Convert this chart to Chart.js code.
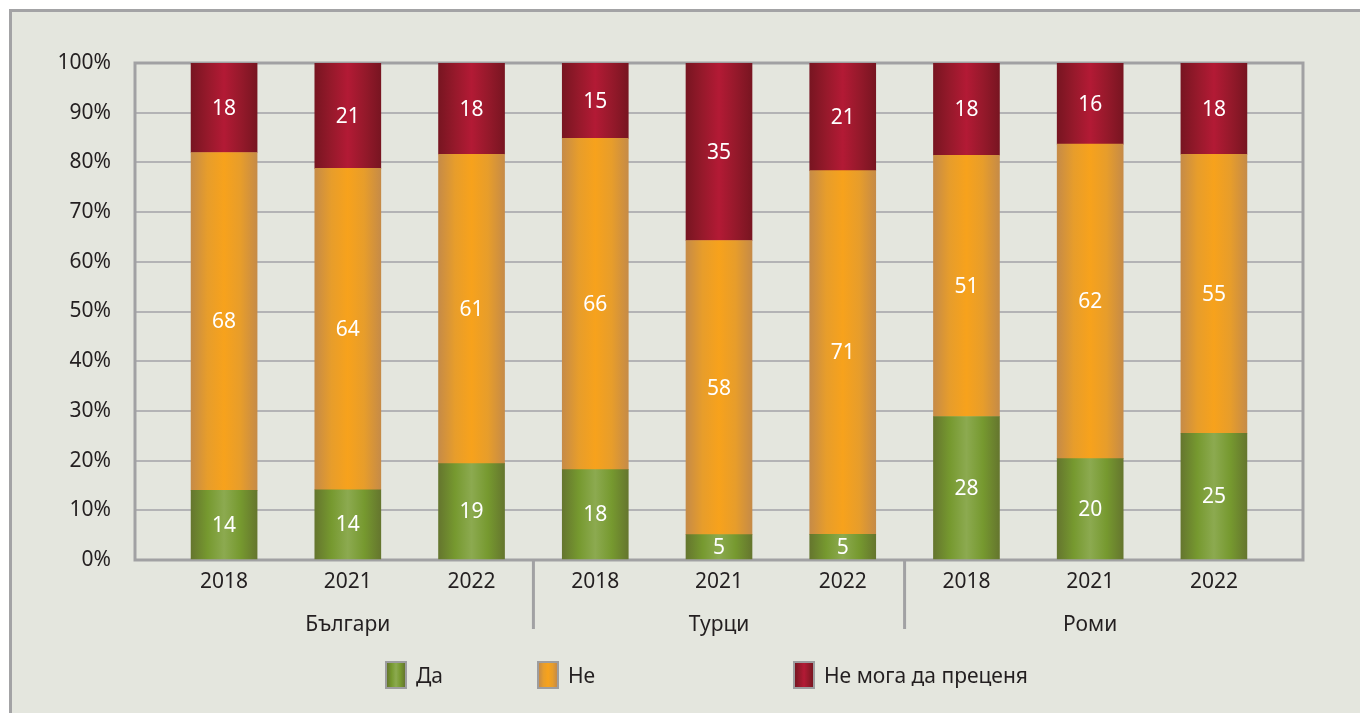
<!DOCTYPE html>
<html>
<head>
<meta charset="utf-8">
<script src="https://cdn.jsdelivr.net/npm/chart.js@4.4.1/dist/chart.umd.min.js"></script>
<style>
  body { margin: 0; background: #fff; overflow: hidden; font-family: "Noto Sans", sans-serif; }
  #frame {
    position: absolute; left: 9px; top: 9px; width: 1360px; height: 713px;
    border-left: 3px solid #a3a3a5; border-top: 3px solid #a3a3a5; background: #e4e6de;
  }
  #wrap { position: absolute; left: 0; top: 0; width: 1348px; height: 701px; }
  #legend { position: absolute; left: 373px; top: 649px; display: flex; align-items: center; }
  #legend .item { display: flex; align-items: center; font-size: 21px; color: #231f20; }
  #legend .box { width: 18px; height: 24px; border: 2px solid #9d9d9f; margin-right: 9px; }
</style>
</head>
<body>
<div id="frame">
  <div id="wrap"><canvas id="myChart" width="1348" height="701"></canvas></div>
  <div id="legend"></div>
</div>
<script>
// data
const groups = ['Българи', 'Турци', 'Роми'];
const years = ['2018', '2021', '2022'];
const seriesNames = ['Да', 'Не', 'Не мога да преценя'];
const yes = [14, 14, 19, 18, 5, 5, 28, 20, 25];
const no = [68, 64, 61, 66, 58, 71, 51, 62, 55];
const cantSay = [18, 21, 18, 15, 35, 21, 18, 16, 18];
const yTicks = [0, 10, 20, 30, 40, 50, 60, 70, 80, 90, 100];

// styling
const BAR_W = 66;
const TEXT = '#231f20';
const LINE = '#a1a1a3';
const FONT = '"Noto Sans", sans-serif';
const greenStops = ['#65762e', '#76992f', '#8caa50', '#76992f', '#65762e'];
const orangeStops = ['#c68b47', '#e79d2b', '#f7a21c', '#e79d2b', '#c68b47'];
const redStops = ['#781521', '#96192b', '#b31a35', '#96192b', '#781521'];
const legendWidths = [152, 256, null];

const labels = groups.flatMap(() => years);
const totals = yes.map((v, i) => v + no[i] + cantSay[i]);
const toPct = arr => arr.map((v, i) => ({x: i, y: v / totals[i] * 100}));

function barFill(stops) {
    return ctx => {
        const chart = ctx.chart;
        const xs = chart.scales && chart.scales.x;
        if (!chart.chartArea || !xs || ctx.type !== 'data') return stops[2];
        const cx = xs.getPixelForValue(ctx.dataIndex);
        const g = chart.ctx.createLinearGradient(cx - BAR_W / 2, 0, cx + BAR_W / 2, 0);
        stops.forEach((c, k) => g.addColorStop(k / (stops.length - 1), c));
        return g;
    };
}

// plot frame under bars
const frameBorder = {
    id: 'frameBorder',
    beforeDatasetsDraw(chart) {
        const {ctx, chartArea: a} = chart;
        ctx.save();
        ctx.strokeStyle = LINE;
        ctx.lineWidth = 3;
        ctx.strokeRect(a.left, a.top, a.right - a.left, a.bottom - a.top);
        ctx.restore();
    }
};

// values inside the segments
const valueLabels = {
    id: 'valueLabels',
    afterDatasetsDraw(chart) {
        const ctx = chart.ctx;
        ctx.save();
        ctx.fillStyle = '#fff';
        ctx.font = '21px ' + FONT;
        ctx.textAlign = 'center';
        ctx.textBaseline = 'middle';
        chart.data.datasets.forEach((ds, di) => {
            chart.getDatasetMeta(di).data.forEach((el, i) => {
                const {x, y, base} = el.getProps(['x', 'y', 'base'], true);
                ctx.fillText(String(ds.raw[i]), x, (y + base) / 2 + 1);
            });
        });
        ctx.restore();
    }
};

// group names + separators under the year ticks
const groupAxis = {
    id: 'groupAxis',
    afterDraw(chart) {
        const {ctx, chartArea: a} = chart;
        const xs = chart.scales.x;
        ctx.save();
        ctx.fillStyle = TEXT;
        ctx.font = '21px ' + FONT;
        ctx.textAlign = 'center';
        ctx.textBaseline = 'middle';
        groups.forEach((g, gi) => {
            const first = gi * years.length;
            const last = first + years.length - 1;
            const cx = (xs.getPixelForValue(first) + xs.getPixelForValue(last)) / 2;
            ctx.fillText(g, cx, a.bottom + 65);
            if (gi > 0) {
                const sx = xs.getPixelForValue(first - 0.5);
                ctx.strokeStyle = LINE;
                ctx.lineWidth = 3;
                ctx.beginPath();
                ctx.moveTo(sx, a.bottom);
                ctx.lineTo(sx, a.bottom + 69);
                ctx.stroke();
            }
        });
        ctx.restore();
    }
};

const chartRef = document.getElementById('myChart').getContext('2d');
const chart = new Chart(chartRef, {
    type: 'bar',
    data: {
        datasets: [
            {label: seriesNames[0], data: toPct(yes), raw: yes, stops: greenStops, backgroundColor: barFill(greenStops)},
            {label: seriesNames[1], data: toPct(no), raw: no, stops: orangeStops, backgroundColor: barFill(orangeStops)},
            {label: seriesNames[2], data: toPct(cantSay), raw: cantSay, stops: redStops, backgroundColor: barFill(redStops)}
        ]
    },
    options: {
        responsive: false,
        animation: false,
        devicePixelRatio: 1,
        layout: {padding: {top: 51, right: 57, left: 0, bottom: 0}},
        datasets: {bar: {barThickness: BAR_W, borderWidth: 0}},
        plugins: {legend: {display: false}, tooltip: {enabled: false}},
        scales: {
            x: {
                type: 'linear',
                stacked: true,
                offset: false,
                min: -0.72,
                max: labels.length - 1 + 0.72,
                grid: {display: false, drawTicks: false, offset: false},
                border: {display: false},
                afterFit: s => { s.height = 153; },
                ticks: {
                    stepSize: 1,
                    includeBounds: false,
                    autoSkip: false,
                    maxRotation: 0,
                    padding: 9,
                    color: TEXT,
                    font: {family: FONT, size: 21},
                    callback: v => Number.isInteger(v) && labels[v] ? labels[v] : ''
                }
            },
            y: {
                stacked: true,
                min: 0,
                max: 100,
                grid: {color: '#b3b3b5', lineWidth: 2, drawTicks: false},
                border: {display: false},
                afterFit: s => { s.width = 123; },
                afterBuildTicks: s => { s.ticks = yTicks.map(v => ({value: v})); },
                ticks: {
                    padding: 24,
                    color: TEXT,
                    font: {family: FONT, size: 21},
                    callback: v => v + '%'
                }
            }
        }
    },
    plugins: [frameBorder, valueLabels, groupAxis]
});

// html legend built from the datasets
const legendEl = document.getElementById('legend');
chart.data.datasets.forEach((ds, i) => {
    const item = document.createElement('div');
    item.className = 'item';
    if (legendWidths[i]) item.style.width = legendWidths[i] + 'px';
    const box = document.createElement('span');
    box.className = 'box';
    box.style.background = 'linear-gradient(to right, ' + ds.stops.join(', ') + ')';
    const txt = document.createElement('span');
    txt.textContent = ds.label;
    item.appendChild(box);
    item.appendChild(txt);
    legendEl.appendChild(item);
});
</script>
</body>
</html>
